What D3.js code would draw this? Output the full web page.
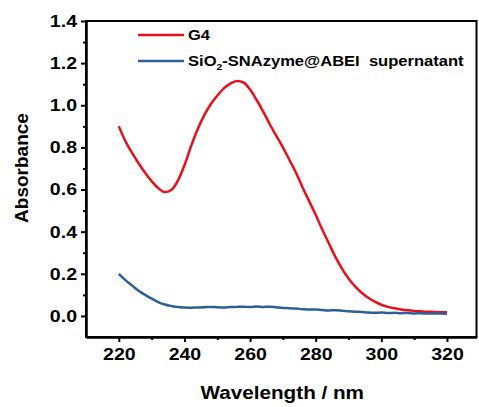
<!DOCTYPE html>
<html>
<head>
<meta charset="utf-8">
<script src="https://cdn.jsdelivr.net/npm/d3@7"></script>
<style>
  body { margin: 0; background: #fff; }
  text { font-family: "Liberation Sans", Arial, sans-serif; font-weight: bold; fill: #000; }
</style>
</head>
<body>
<div id="chart"></div>
<script>
// data
var wavelength = [220,222,224,226,228,230,232,234,236,238,240,242,244,246,248,250,252,254,256,258,
                  260,262,264,266,268,270,272,274,276,278,280,282,284,286,288,290,292,294,296,298,
                  300,302,304,306,308,310,312,314,316,318,320];
var g4 = [0.90,0.83,0.775,0.725,0.68,0.64,0.607,0.588,0.598,0.642,0.715,0.805,0.885,0.952,1.005,1.045,1.08,1.103,1.115,1.108,
          1.075,1.025,0.97,0.91,0.855,0.80,0.74,0.68,0.61,0.545,0.48,0.41,0.345,0.28,0.225,0.178,0.14,0.11,0.086,0.068,
          0.053,0.043,0.036,0.031,0.027,0.024,0.022,0.020,0.019,0.018,0.018];
var supernatant = [0.20,0.17,0.145,0.12,0.10,0.082,0.066,0.054,0.047,0.042,0.040,0.039,0.040,0.041,0.043,0.041,0.040,0.042,0.043,0.044,
                   0.042,0.045,0.043,0.044,0.041,0.038,0.037,0.035,0.032,0.030,0.031,0.028,0.026,0.027,0.025,0.022,0.020,0.019,0.016,0.015,
                   0.016,0.014,0.015,0.013,0.014,0.012,0.013,0.011,0.012,0.011,0.010];
var series_names = ['G4', 'SiO2-SNAzyme@ABEI  supernatant'];
var series_colors = ['#e8101a', '#2f5f98'];
var x_ticks = [220,240,260,280,300,320];
var y_ticks = [0.0,0.2,0.4,0.6,0.8,1.0,1.2,1.4];

var width = 479, height = 407;
var margin = {left: 86, top: 21, right: 2.5, bottom: 70};
var sx = 1.15; // glyphs in the figure are a bit wide

var svg = d3.select('#chart').append('svg')
    .attr('width', width).attr('height', height);

var x = d3.scaleLinear().domain([210, 329]).range([margin.left, width - margin.right]);
var y = d3.scaleLinear().domain([-0.1, 1.4]).range([height - margin.bottom, margin.top]);

// frame
svg.append('rect')
    .attr('x', x(210)).attr('y', y(1.4))
    .attr('width', x(329) - x(210)).attr('height', y(-0.1) - y(1.4))
    .attr('fill', 'none').attr('stroke', '#000').attr('stroke-width', 2);

// axes
var xAxis = svg.append('g')
    .attr('transform', 'translate(0,' + y(-0.1) + ')')
    .call(d3.axisBottom(x).tickValues(x_ticks).tickSize(5).tickSizeOuter(0).tickPadding(6).tickFormat(d3.format('d')));
svg.append('g')
    .attr('transform', 'translate(0,' + y(-0.1) + ')')
    .call(d3.axisBottom(x).tickValues(d3.range(230, 330, 20)).tickSize(3).tickSizeOuter(0).tickFormat(''));
var yAxis = svg.append('g')
    .attr('transform', 'translate(' + x(210) + ',0)')
    .call(d3.axisLeft(y).tickValues(y_ticks).tickSize(5).tickSizeOuter(0).tickPadding(4).tickFormat(d3.format('.1f')));
svg.append('g')
    .attr('transform', 'translate(' + x(210) + ',0)')
    .call(d3.axisLeft(y).tickValues([0.1,0.3,0.5,0.7,0.9,1.1,1.3]).tickSize(3).tickSizeOuter(0).tickFormat(''));

svg.selectAll('.domain').attr('stroke-width', 2);
svg.selectAll('.tick line').attr('stroke-width', 2);
svg.selectAll('.tick text')
    .style('font-size', '17px')
    .style('font-family', '"Liberation Sans", Arial, sans-serif')
    .style('font-weight', 'bold')
    .attr('transform', 'scale(' + sx + ',1)');
yAxis.selectAll('.tick text').attr('x', -9 / sx);

// axis titles
svg.append('text')
    .attr('transform', 'translate(' + ((x(210) + x(329)) / 2 + 1) + ',399) scale(' + sx + ',1)')
    .attr('text-anchor', 'middle')
    .style('font-size', '18px')
    .text('Wavelength / nm');
svg.append('text')
    .attr('transform', 'translate(28,' + 168 + ') rotate(-90)')
    .attr('text-anchor', 'middle')
    .style('font-size', '19px')
    .text('Absorbance');

// lines
var line = d3.line()
    .curve(d3.curveMonotoneX)
    .x(function(d) { return x(d[0]); })
    .y(function(d) { return y(d[1]); });
var all_series = [g4, supernatant];
all_series.forEach(function(vals, i) {
    svg.append('path')
        .datum(wavelength.map(function(w, j) { return [w, vals[j]]; }))
        .attr('d', line)
        .attr('fill', 'none')
        .attr('stroke', series_colors[i])
        .attr('stroke-width', 2.5)
        .attr('stroke-linejoin', 'round');
});

// legend
var legend_y = [35, 61];
series_names.forEach(function(name, i) {
    svg.append('line')
        .attr('x1', 138).attr('x2', 184)
        .attr('y1', legend_y[i]).attr('y2', legend_y[i])
        .attr('stroke', series_colors[i]).attr('stroke-width', 2.5);
});
svg.append('text')
    .attr('transform', 'translate(188,' + (legend_y[0] + 5) + ') scale(' + sx + ',1)')
    .style('font-size', '14.4px')
    .text('G4');
var lt = svg.append('text')
    .attr('transform', 'translate(188,' + (legend_y[1] + 5) + ') scale(' + sx + ',1)')
    .style('font-size', '14.4px')
    .attr('xml:space', 'preserve');
lt.append('tspan').text('SiO');
lt.append('tspan').attr('dy', 4).style('font-size', '9px').text('2');
lt.append('tspan').attr('dy', -4).text('-SNAzyme@ABEI\u00a0\u00a0supernatant');
</script>
</body>
</html>
